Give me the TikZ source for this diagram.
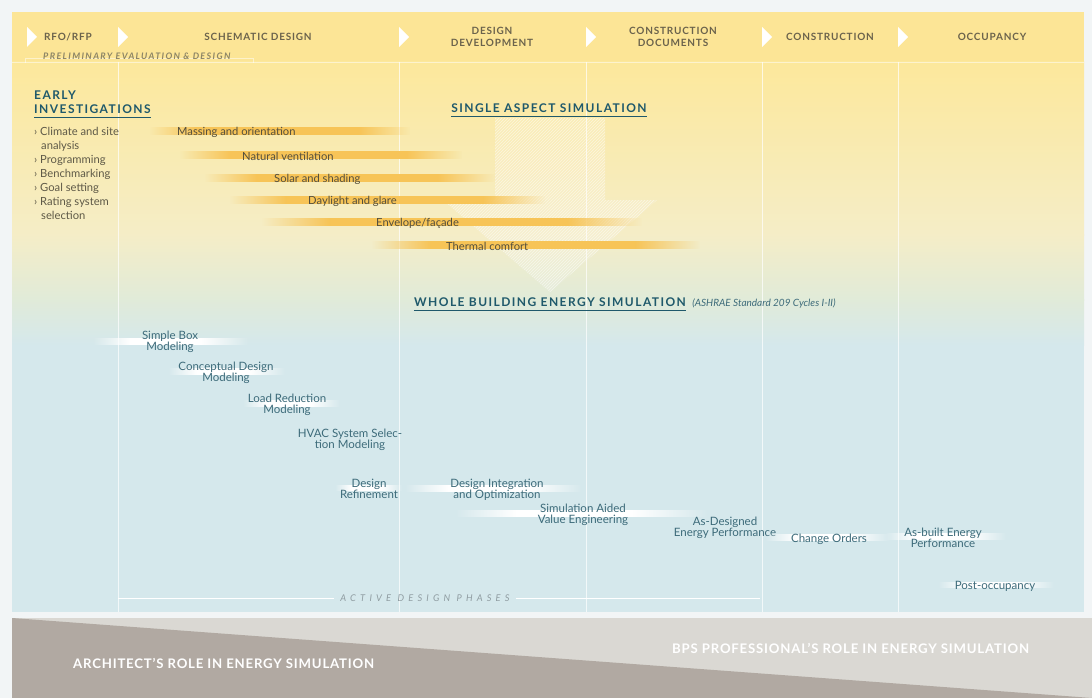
\documentclass[tikz,border=0pt]{standalone}
\usepackage{fontspec}
\setmainfont{Lato}
\newfontfamily\phasefont[LetterSpace=8]{Lato}
\newfontfamily\headfont[LetterSpace=12]{Lato}
\newfontfamily\prefont[LetterSpace=15]{Lato}
\newfontfamily\activefont[LetterSpace=45]{Lato}
\newfontfamily\rolefont[LetterSpace=6]{Lato}
\usetikzlibrary{fadings,patterns}

\pgfdeclarehorizontalshading{barshade}{100bp}{color(0bp)=(black); color(25bp)=(black); color(34bp)=(white); color(65bp)=(white); color(75bp)=(black); color(100bp)=(black)}
\pgfdeclarefading{barfade}{\pgfuseshading{barshade}}
\pgfdeclarehorizontalshading{glowshade}{100bp}{color(0bp)=(black); color(25bp)=(black); color(37bp)=(white); color(60bp)=(white); color(75bp)=(black); color(100bp)=(black)}
\pgfdeclarefading{glowfade}{\pgfuseshading{glowshade}}

\begin{document}
\begin{tikzpicture}[x=1pt,y=-1pt,
    phase/.style={font=\phasefont\bfseries\fontsize{10}{11.5}\selectfont,text=hdtext,align=center,inner sep=0pt},
    headline/.style={font=\headfont\bfseries\fontsize{12}{14}\selectfont,text=tealhd,inner sep=0pt},
    bartext/.style={font=\fontsize{11.2}{12}\selectfont,text=bartxt,inner sep=0pt,anchor=west},
    orangebar/.style={fill=barorange,path fading=barfade},
    glowbar/.style={fill=white,path fading=glowfade},
    simstage/.style={font=\fontsize{11.5}{10.8}\selectfont,text=lowteal,align=center,inner sep=0pt},
    phaseline/.style={color=white,opacity=0.7,line width=0.6pt},
    underline/.style={color=tealhd,line width=0.8pt}]

    \definecolor{bggray}{rgb}{0.95,0.96,0.965}
    \definecolor{hdyellow}{rgb}{0.99,0.9,0.59}
    \definecolor{panelyellow}{rgb}{0.99,0.91,0.61}
    \definecolor{paleyellow}{rgb}{0.96,0.93,0.78}
    \definecolor{midgreen}{rgb}{0.88,0.92,0.85}
    \definecolor{panelblue}{rgb}{0.835,0.91,0.925}
    \definecolor{hdtext}{rgb}{0.42,0.39,0.3}
    \definecolor{pretext}{rgb}{0.55,0.52,0.4}
    \definecolor{tealhd}{rgb}{0.12,0.35,0.42}
    \definecolor{listtext}{rgb}{0.37,0.35,0.28}
    \definecolor{bartxt}{rgb}{0.33,0.31,0.24}
    \definecolor{barorange}{rgb}{0.97,0.77,0.34}
    \definecolor{lowteal}{rgb}{0.24,0.42,0.48}
    \definecolor{activegray}{rgb}{0.56,0.61,0.63}
    \definecolor{rolelight}{rgb}{0.855,0.847,0.827}
    \definecolor{roledark}{rgb}{0.694,0.663,0.635}

    \useasboundingbox (0,0) rectangle (1092,698);
    \fill[color=bggray] (0,0) rectangle (1092,698);
    \fill[color=hdyellow] (12,12) rectangle (1084,62);
    \shade[top color=panelyellow,bottom color=paleyellow] (12,62) rectangle (1084,235);
    \shade[top color=paleyellow,bottom color=midgreen] (12,234.5) rectangle (1084,300);
    \shade[top color=midgreen,bottom color=panelblue] (12,299.5) rectangle (1084,345);
    \fill[color=panelblue] (12,344.5) rectangle (1084,612);

    \draw[phaseline,opacity=0.5] (12,62.5) -- (1084,62.5);
    \draw[phaseline,opacity=0.5] (25,63) -- (25,58) -- (253,58) -- (253,63);
    \draw[phaseline] (118,62) -- (118,612);
    \draw[phaseline] (399,62) -- (399,612);
    \draw[phaseline] (586,62) -- (586,612);
    \draw[phaseline] (762,62) -- (762,612);
    \draw[phaseline] (898,62) -- (898,612);

    \fill[color=white] (27,27) -- (37,37) -- (27,47) -- cycle;
    \fill[color=white] (118,27) -- (128,37) -- (118,47) -- cycle;
    \fill[color=white] (399,27) -- (409,37) -- (399,47) -- cycle;
    \fill[color=white] (586,27) -- (596,37) -- (586,47) -- cycle;
    \fill[color=white] (762,27) -- (772,37) -- (762,47) -- cycle;
    \fill[color=white] (898,27) -- (908,37) -- (898,47) -- cycle;

    \node[phase] (rfo) at (68,37) {RFO/RFP};
    \node[phase] (schematic) at (258,37) {SCHEMATIC DESIGN};
    \node[phase] (devel) at (492,37) {DESIGN\\DEVELOPMENT};
    \node[phase] (condocs) at (673,37) {CONSTRUCTION\\DOCUMENTS};
    \node[phase] (constr) at (830,37) {CONSTRUCTION};
    \node[phase] (occup) at (992,37) {OCCUPANCY};
    \node[font=\prefont\bfseries\itshape\fontsize{9}{10}\selectfont,text=pretext,anchor=west,inner sep=0pt] (prelim) at (43,56) {PRELIMINARY EVALUATION \& DESIGN};

    \fill[color=white,opacity=0.15] (495,118) -- (605,118) -- (605,200) -- (657,200) -- (550,292) -- (443,200) -- (495,200) -- cycle;
    \fill[pattern=north east lines,pattern color=white,opacity=0.5] (495,118) -- (605,118) -- (605,200) -- (657,200) -- (550,292) -- (443,200) -- (495,200) -- cycle;

    \node[headline,anchor=north west,align=left] (early) at (34,91) {EARLY\\INVESTIGATIONS};
    \draw[underline] ([yshift=-3.5pt]early.south west) -- ([yshift=-3.5pt]early.south east);
    \node[font=\fontsize{11.2}{14}\selectfont,text=listtext,align=left,anchor=north west,inner sep=0pt] (tasks) at (34,127) {› Climate and site\\\hspace*{7pt}analysis\\› Programming\\› Benchmarking\\› Goal setting\\› Rating system\\\hspace*{7pt}selection};

    \node[headline] (single) at (549,108) {SINGLE ASPECT SIMULATION};
    \draw[underline] ([yshift=-4pt]single.south west) -- ([yshift=-4pt]single.south east);

    \fill[orangebar] (150,127) rectangle (410,135);
    \node[bartext] (massing) at (177,132) {Massing and orientation};
    \fill[orangebar] (180,151) rectangle (462,159);
    \node[bartext] (natvent) at (242,156) {Natural ventilation};
    \fill[orangebar] (205,174) rectangle (495,182);
    \node[bartext] (solar) at (274,179) {Solar and shading};
    \fill[orangebar] (230,196) rectangle (545,204);
    \node[bartext] (daylight) at (308,201) {Daylight and glare};
    \fill[orangebar] (262,218) rectangle (642,226);
    \node[bartext] (envelope) at (376,223) {Envelope/façade};
    \fill[orangebar] (372,241) rectangle (700,249);
    \node[bartext] (thermal) at (446,246) {Thermal comfort};

    \node[headline] (whole) at (550,302) {WHOLE BUILDING ENERGY SIMULATION};
    \draw[underline] ([yshift=-4pt]whole.south west) -- ([yshift=-4pt]whole.south east);
    \node[font=\itshape\fontsize{10}{12}\selectfont,text=lowteal,anchor=base west,inner sep=0pt] (ashrae) at ([xshift=6pt]whole.base east) {(ASHRAE Standard 209 Cycles I-II)};

    \fill[glowbar] (93,338) rectangle (248,345);
    \node[simstage] (simplebox) at (170,341.5) {Simple Box\\Modeling};
    \fill[glowbar] (168,368) rectangle (285,375);
    \node[simstage] (concept) at (226,372.5) {Conceptual Design\\Modeling};
    \fill[glowbar] (243,400) rectangle (340,407);
    \node[simstage] (loadred) at (287,404.5) {Load Reduction\\Modeling};
    \node[simstage] (hvac) at (350,439.5) {HVAC System Selec-\\tion Modeling};
    \fill[glowbar] (335,485) rectangle (402,491);
    \node[simstage] (refine) at (369,488.5) {Design\\Refinement};
    \fill[glowbar] (405,485) rectangle (582,492);
    \node[simstage] (integ) at (497,490) {Design Integration\\and Optimization};
    \fill[glowbar] (455,510) rectangle (708,517);
    \node[simstage] (valeng) at (583,514.5) {Simulation Aided\\Value Engineering};
    \node[simstage] (asdesign) at (725,527.5) {As-Designed\\Energy Performance};
    \fill[glowbar] (765,534) rectangle (890,541);
    \node[simstage] (change) at (829,539) {Change Orders};
    \fill[glowbar] (885,533) rectangle (1006,540);
    \node[simstage] (asbuilt) at (943,537.5) {As-built Energy\\Performance};
    \fill[glowbar] (938,582) rectangle (1054,588);
    \node[simstage] (postocc) at (995,586) {Post-occupancy};

    \node[font=\activefont\itshape\fontsize{9.3}{10}\selectfont,text=activegray,inner sep=0pt] (active) at (425,598) {ACTIVE DESIGN PHASES};
    \draw[color=white,line width=0.8pt] (118,598) -- ([xshift=-6pt]active.west);
    \draw[color=white,line width=0.8pt] ([xshift=6pt]active.east) -- (760,598);

    \fill[color=rolelight] (12,618) rectangle (1092,698);
    \fill[color=roledark] (12,618) -- (1092,698) -- (12,698) -- cycle;
    \node[font=\rolefont\bfseries\fontsize{13.2}{15}\selectfont,text=white,anchor=west,inner sep=0pt] (archrole) at (73,663) {ARCHITECT’S ROLE IN ENERGY SIMULATION};
    \node[font=\rolefont\bfseries\fontsize{13.2}{15}\selectfont,text=white,anchor=west,inner sep=0pt] (bpsrole) at (672,648) {BPS PROFESSIONAL’S ROLE IN ENERGY SIMULATION};
\end{tikzpicture}
\end{document}
